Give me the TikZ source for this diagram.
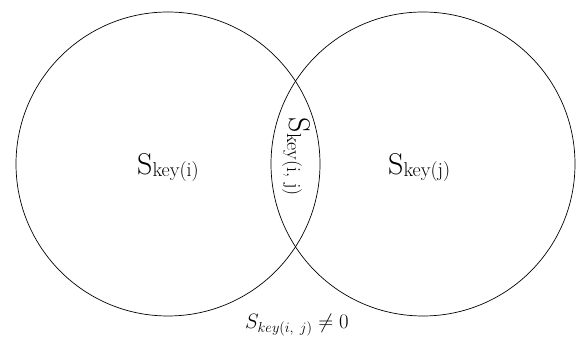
\documentclass[tikz,border=0pt]{standalone}
\usepackage{fontspec}
\newcommand\skey[1]{S\raisebox{-2pt}{\fontsize{20}{20}\selectfont #1}}

\begin{document}
\begin{tikzpicture}[x=1pt, y=1pt, line join=round, line cap=round,
		setcirc/.style={draw, circle, minimum size=304pt, inner sep=0pt, line width=.7pt},
		setlbl/.style={font=\fontsize{30}{30}\selectfont, inner sep=0pt}]
	\useasboundingbox (0,0) rectangle (576,337);
	\node[setcirc] (seti) at (168,173) {};
	\node[setcirc] (setj) at (423,173) {};
	\node[setlbl, anchor=base west] (lbli) at (137,162) {\skey{key(i)}};
	\node[setlbl, anchor=base west] (lblj) at (388,162) {\skey{key(j)}};
	\node[setlbl, rotate=-90] (lblij) at (296,180) {\skey{key(i, j)}};
	\node[anchor=base west, inner sep=0pt, font=\fontsize{21}{21}\selectfont] (cond) at (245,8)
		{$S_{key(i,\ j)} \neq 0$};
\end{tikzpicture}
\end{document}
